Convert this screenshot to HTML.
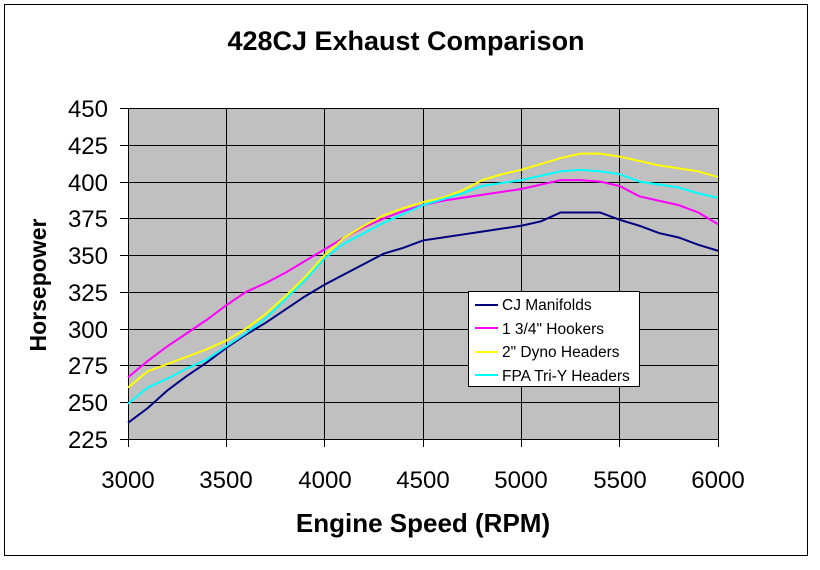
<!DOCTYPE html>
<html><head><meta charset="utf-8"><style>
html,body{margin:0;padding:0;background:#fff;}
svg{display:block;font-family:"Liberation Sans",Arial,sans-serif;}
</style></head><body>
<svg width="820" height="570" viewBox="0 0 820 570">
<rect x="0" y="0" width="820" height="570" fill="#fff"/>
<rect x="4.5" y="4.5" width="803" height="551" fill="#fff" stroke="#000" stroke-width="1"/>
<text x="406" y="50" font-size="27" font-weight="bold" text-anchor="middle">428CJ Exhaust Comparison</text>
<rect x="128" y="108" width="590" height="331" fill="#c0c0c0"/>
<g stroke="#000" stroke-width="1">
<line x1="120" y1="108.5" x2="718" y2="108.5"/>
<line x1="120" y1="145.5" x2="718" y2="145.5"/>
<line x1="120" y1="182.5" x2="718" y2="182.5"/>
<line x1="120" y1="218.5" x2="718" y2="218.5"/>
<line x1="120" y1="255.5" x2="718" y2="255.5"/>
<line x1="120" y1="292.5" x2="718" y2="292.5"/>
<line x1="120" y1="329.5" x2="718" y2="329.5"/>
<line x1="120" y1="365.5" x2="718" y2="365.5"/>
<line x1="120" y1="402.5" x2="718" y2="402.5"/>
<line x1="120" y1="439.5" x2="718" y2="439.5"/>
<line x1="128.5" y1="108" x2="128.5" y2="447"/>
<line x1="226.5" y1="108" x2="226.5" y2="447"/>
<line x1="324.5" y1="108" x2="324.5" y2="447"/>
<line x1="423.5" y1="108" x2="423.5" y2="447"/>
<line x1="521.5" y1="108" x2="521.5" y2="447"/>
<line x1="619.5" y1="108" x2="619.5" y2="447"/>
<line x1="718.5" y1="108" x2="718.5" y2="447"/>
</g>
<g font-size="24" text-anchor="end">
<text x="108" y="117">450</text><text x="108" y="154">425</text><text x="108" y="191">400</text>
<text x="108" y="227">375</text><text x="108" y="264">350</text><text x="108" y="301">325</text>
<text x="108" y="338">300</text><text x="108" y="374">275</text><text x="108" y="411">250</text>
<text x="108" y="448">225</text>
</g>
<g font-size="24" text-anchor="middle">
<text x="128" y="488">3000</text><text x="226" y="488">3500</text><text x="325" y="488">4000</text>
<text x="423" y="488">4500</text><text x="521" y="488">5000</text><text x="620" y="488">5500</text>
<text x="718" y="488">6000</text>
</g>
<text x="423" y="532" font-size="26" font-weight="bold" text-anchor="middle">Engine Speed (RPM)</text>
<text transform="translate(46 285) rotate(-90)" font-size="23" font-weight="bold" text-anchor="middle">Horsepower</text>
<g fill="none" stroke-width="2" transform="translate(128 770) scale(0.19667 -1.471) translate(-3000 0)">
<polyline vector-effect="non-scaling-stroke" stroke="#000080" points="3000,236 3100,246 3200,258 3300,268 3400,277 3500,287 3600,296 3700,304 3800,313 3900,322 4000,330 4100,337 4200,344 4300,351 4400,355 4500,360 4600,362 4700,364 4800,366 4900,368 5000,370 5100,373 5200,379 5300,379 5400,379 5500,374 5600,370 5700,365 5800,362 5900,357 6000,353"/>
<polyline vector-effect="non-scaling-stroke" stroke="#ff00ff" points="3000,267 3100,278 3200,288 3300,297 3400,306 3500,316 3600,325 3700,331 3800,338 3900,346 4000,354 4100,362 4200,369 4300,375 4400,380 4500,384 4600,387 4700,389 4800,391 4900,393 5000,395 5100,398 5200,401 5300,401 5400,400 5500,397 5600,390 5700,387 5800,384 5900,379 6000,371"/>
<polyline vector-effect="non-scaling-stroke" stroke="#ffff00" points="3000,260 3100,271 3200,276 3300,281 3400,286 3500,292 3600,300 3700,310 3800,322 3900,335 4000,350 4100,362 4200,370 4300,377 4400,382 4500,386 4600,389 4700,394 4800,401 4900,405 5000,408 5100,412 5200,416 5300,419 5400,419 5500,417 5600,414 5700,411 5800,409 5900,407 6000,403"/>
<polyline vector-effect="non-scaling-stroke" stroke="#00ffff" points="3000,249 3100,260 3200,266 3300,273 3400,279 3500,288 3600,297 3700,307 3800,320 3900,333 4000,348 4100,358 4200,365 4300,372 4400,378 4500,384 4600,388 4700,392 4800,397 4900,399 5000,401 5100,404 5200,407 5300,408 5400,407 5500,405 5600,400 5700,398 5800,396 5900,392 6000,389"/>
</g>
<rect x="468.5" y="291.5" width="171" height="95" fill="#fff" stroke="#000" stroke-width="1"/>
<g stroke-width="2">
<line x1="475" y1="305" x2="498" y2="305" stroke="#000080"/>
<line x1="475" y1="328" x2="498" y2="328" stroke="#ff00ff"/>
<line x1="475" y1="352" x2="498" y2="352" stroke="#ffff00"/>
<line x1="475" y1="375" x2="498" y2="375" stroke="#00ffff"/>
</g>
<g font-size="15.5">
<text x="502" y="310">CJ Manifolds</text>
<text x="502" y="334">1 3/4" Hookers</text>
<text x="502" y="357">2" Dyno Headers</text>
<text x="502" y="381">FPA Tri-Y Headers</text>
</g>
</svg>
</body></html>
